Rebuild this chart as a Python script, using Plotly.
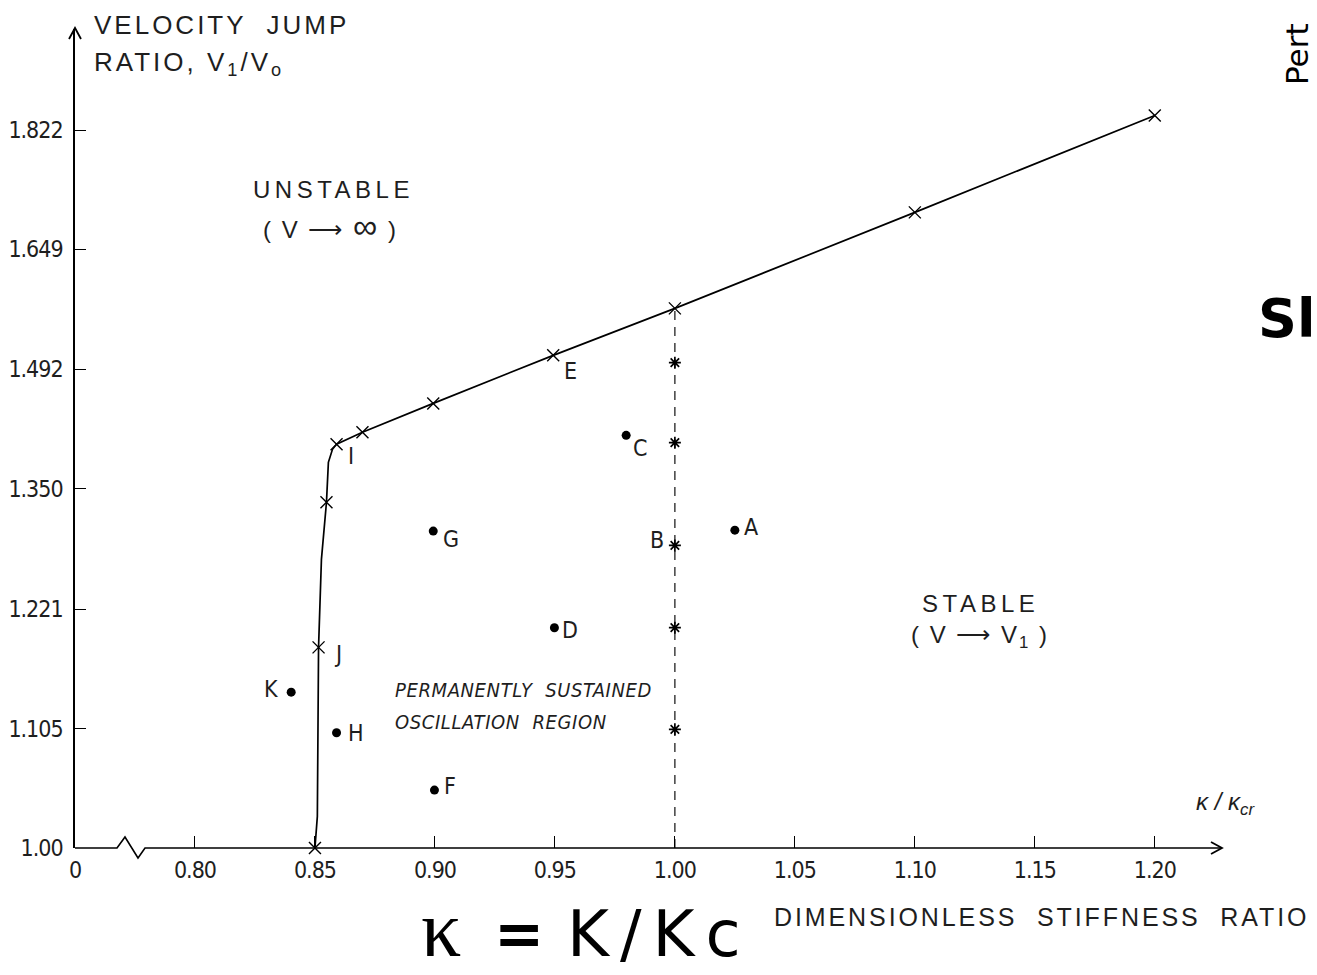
import math
import plotly.graph_objects as go

# ---------------- data ----------------
curve_x = [0.850, 0.851, 0.8515, 0.8527, 0.8548, 0.8556, 0.8573, 0.859, 0.8698, 0.8993, 0.9493, 1.00, 1.10, 1.20]
curve_y = [1.000, 1.0268, 1.1825, 1.2727, 1.3349, 1.3802, 1.3953, 1.4012, 1.4153, 1.4499, 1.5093, 1.5697, 1.7008, 1.8443]

cross_x = [0.850, 0.8515, 0.8548, 0.859, 0.8698, 0.8993, 0.9493, 1.00, 1.10, 1.20]
cross_y = [1.000, 1.1825, 1.3349, 1.4012, 1.4153, 1.4499, 1.5093, 1.5697, 1.7008, 1.8443]

boundary_x = [1.00, 1.00]
boundary_y = [1.00, 1.5697]

star_x = [1.00, 1.00, 1.00, 1.00, 1.00]
star_y = [1.5001, 1.4031, 1.2877, 1.2021, 1.1042]

dot_x = [1.025, 0.9797, 0.9498, 0.8998, 0.8993, 0.859, 0.8401]
dot_y = [1.3042, 1.4117, 1.2021, 1.0496, 1.3032, 1.1011, 1.1391]

point_labels = ["A", "B", "C", "D", "E", "F", "G", "H", "I", "J", "K"]
label_x = [1.025, 1.00, 0.9797, 0.9498, 0.9493, 0.8998, 0.8993, 0.859, 0.859, 0.8515, 0.8401]
label_y = [1.3042, 1.2877, 1.4117, 1.2021, 1.5093, 1.0496, 1.3032, 1.1011, 1.4012, 1.1825, 1.1391]

ytick_vals = [1.00, 1.105, 1.221, 1.350, 1.492, 1.649, 1.822]
ytick_text = ["1.00", "1.105", "1.221", "1.350", "1.492", "1.649", "1.822"]
xtick_vals = [0.75, 0.80, 0.85, 0.90, 0.95, 1.00, 1.05, 1.10, 1.15, 1.20]
xtick_text = ["0", "0.80", "0.85", "0.90", "0.95", "1.00", "1.05", "1.10", "1.15", "1.20"]

# ---------------- styling / layout ----------------
W, H = 1317, 975
ML, MR, MT, MB = 75, 95, 29, 127
PW, PH = W - ML - MR, H - MT - MB
X0, X1 = 0.75, 0.75 + PW / 2399.5
Y1 = (PH / 1196.8) / math.log(10)

NARROW = "Liberation Sans Narrow, DejaVu Sans Condensed, Arial Narrow, sans-serif"
SANS = "Liberation Sans, Arial, sans-serif"
INK = "#1e1e1e"


def P(px, py):
    """pixel position on the page -> paper coordinates"""
    return (px - ML) / PW, (H - MB - py) / PH


def squeeze(t):
    return '<span style="letter-spacing:-1px">%s</span>' % t


label_offsets = {
    "A": (16, 3), "B": (-18, 5), "C": (14, -13), "D": (16, -2), "E": (17, -16),
    "F": (16, 4), "G": (18, -8), "H": (19, 0), "I": (14, -12), "J": (19, -7), "K": (-20, 3),
}

fig = go.Figure()

fig.add_trace(go.Scatter(x=curve_x, y=curve_y, mode="lines",
                         line=dict(color="black", width=1.7), hoverinfo="skip"))
fig.add_trace(go.Scatter(x=boundary_x, y=boundary_y, mode="lines",
                         line=dict(color="#222", width=1.3, dash="9px,7px"), hoverinfo="skip"))
fig.add_trace(go.Scatter(x=cross_x, y=cross_y, mode="markers", cliponaxis=False,
                         marker=dict(symbol="x-thin", size=12, line=dict(color="black", width=1.4))))
fig.add_trace(go.Scatter(x=star_x, y=star_y, mode="markers", cliponaxis=False,
                         marker=dict(symbol="asterisk", size=10, line=dict(color="black", width=1.7))))
fig.add_trace(go.Scatter(x=dot_x, y=dot_y, mode="markers", cliponaxis=False,
                         marker=dict(symbol="circle", size=9, color="black")))

annotations = []
for name, lx, ly in zip(point_labels, label_x, label_y):
    dx, dy = label_offsets[name]
    annotations.append(dict(x=lx, y=math.log10(ly), xref="x", yref="y", text=name,
                            showarrow=False, xshift=dx, yshift=dy,
                            font=dict(family=NARROW, size=23, color=INK)))


def txt(text, px, py, size, family=SANS, xanchor="center", color=INK, angle=0, spacing=None):
    x, y = P(px, py)
    if spacing is not None:
        text = '<span style="letter-spacing:%spx">%s</span>' % (spacing, text)
    annotations.append(dict(x=x, y=y, xref="paper", yref="paper", text=text, showarrow=False,
                            xanchor=xanchor, yanchor="middle", textangle=angle,
                            font=dict(family=family, size=size, color=color)))


txt("VELOCITY  JUMP", 92, 25, 26, xanchor="left", spacing=3)
txt("RATIO, V<sub>1</sub>/V<sub>o</sub>", 92, 64, 26, xanchor="left", spacing=3)
txt("UNSTABLE", 333, 190, 24, spacing=4.5)
txt('( V ⟶ <span style="font-size:34px">∞</span> )', 330, 226, 24, spacing=2)
txt("STABLE", 980, 603, 24, spacing=4.5)
txt("( V ⟶ V<sub>1</sub> )", 980, 636, 24, spacing=2)
txt("<i>PERMANENTLY  SUSTAINED</i>", 393, 690, 20, family=NARROW, xanchor="left", spacing=0.6)
txt("<i>OSCILLATION  REGION</i>", 393, 722, 20, family=NARROW, xanchor="left", spacing=0.6)
txt("<i>κ / κ<sub>cr</sub></i>", 1225, 803, 24, family=SANS)
txt("DIMENSIONLESS  STIFFNESS  RATIO", 772, 917, 25, xanchor="left", spacing=2.9)
txt("κ", 441, 929, 80, family="Liberation Serif, serif", color="black")
txt("<b>=</b>", 519, 934, 60, family="DejaVu Sans, sans-serif", color="black")
txt("K/Kc", 565, 934, 64, family="DejaVu Sans, sans-serif", xanchor="left", color="black", spacing=11)
txt("<b>Sl</b>", 1256, 318, 54, family="DejaVu Sans, sans-serif", xanchor="left", color="black")
txt("Pert", 1297, 54, 31, family="DejaVu Sans, sans-serif", color="black", angle=-90)

# x-axis line with the scale-break zigzag, plus arrowheads on both axes
pts = [P(75, 848), P(117, 848), P(125, 837), P(138, 858), P(145, 848), P(1222, 848)]
xarrow = [P(1211, 842), P(1222, 848), P(1211, 854)]
yarrow = [P(69, 39), P(75, 28), P(81, 39)]


def polyline(points):
    return "M " + " L ".join("%.5f %.5f" % p for p in points)


shapes = [
    dict(type="path", path=polyline(pts), xref="paper", yref="paper",
         line=dict(color="black", width=1.6), layer="above"),
    dict(type="path", path=polyline(xarrow), xref="paper", yref="paper",
         line=dict(color="black", width=1.8), layer="above"),
    dict(type="path", path=polyline(yarrow), xref="paper", yref="paper",
         line=dict(color="black", width=1.8), layer="above"),
]

fig.update_layout(
    width=W, height=H,
    margin=dict(l=ML, r=MR, t=MT, b=MB, pad=0, autoexpand=False),
    paper_bgcolor="white", plot_bgcolor="white",
    showlegend=False,
    annotations=annotations,
    shapes=shapes,
    xaxis=dict(range=[X0, X1], tickmode="array", tickvals=xtick_vals,
               ticktext=[squeeze(t) for t in xtick_text], automargin=False,
               ticks="inside", ticklen=12, tickwidth=1.3, tickcolor="black",
               showline=False, showgrid=False, zeroline=False, ticklabelstandoff=6,
               tickfont=dict(family=NARROW, size=23, color=INK)),
    yaxis=dict(type="log", range=[0, Y1], tickmode="array", tickvals=ytick_vals,
               ticktext=[squeeze(t) for t in ytick_text], automargin=False,
               ticks="inside", ticklen=11, tickwidth=1.3, tickcolor="black",
               showline=True, linecolor="black", linewidth=1.6,
               showgrid=False, zeroline=False, ticklabelstandoff=6,
               tickfont=dict(family=NARROW, size=23, color=INK)),
)

fig.write_html("out.html")
